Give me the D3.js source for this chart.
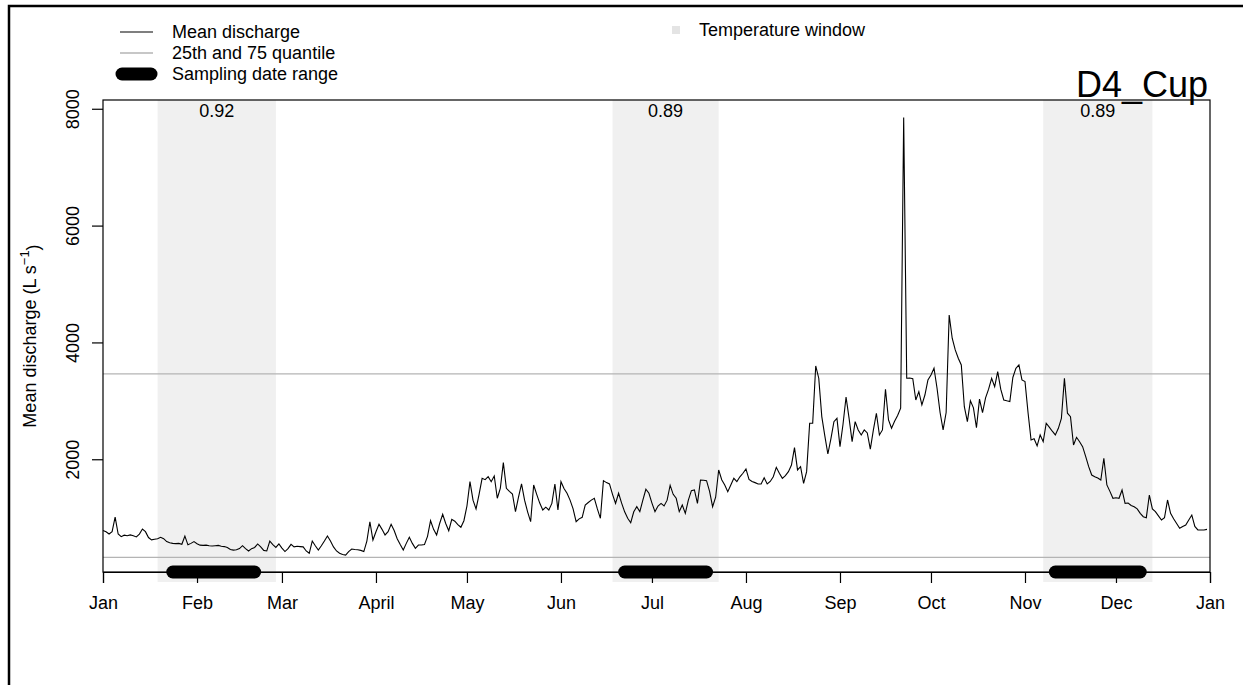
<!DOCTYPE html>
<html>
<head>
<meta charset="utf-8">
<script src="https://cdn.jsdelivr.net/npm/d3@7/dist/d3.min.js"></script>
<style>
  body { margin: 0; background: #fff; }
  svg { display: block; font-family: "Liberation Sans", Arial, sans-serif; }
</style>
</head>
<body>
<div id="chart"></div>
<script>
'use strict';

// daily mean discharge (L/s), one array per month
var janQ = [780, 760, 720, 760, 1010, 720, 675, 700, 690, 705, 690, 670, 720, 805, 760, 660, 620, 630, 640, 665, 640, 590, 570, 560, 555, 560, 545, 686, 535, 560, 590];
var febQ = [555, 530, 525, 530, 520, 515, 520, 525, 510, 505, 490, 455, 445, 450, 470, 520, 470, 430, 470, 490, 550, 500, 440, 430, 600, 540, 490, 550];
var marQ = [480, 420, 470, 544, 500, 510, 505, 500, 430, 390, 600, 520, 447, 520, 600, 686, 600, 500, 430, 390, 370, 360, 420, 464, 455, 450, 440, 420, 600, 930, 618];
var aprQ = [760, 886, 800, 704, 760, 886, 780, 640, 540, 447, 560, 664, 560, 476, 532, 532, 540, 680, 948, 800, 704, 900, 1058, 900, 777, 972, 940, 880, 836, 948];
var mayQ = [1200, 1616, 1300, 1149, 1400, 1674, 1650, 1702, 1616, 1714, 1332, 1500, 1942, 1503, 1450, 1406, 1103, 1350, 1577, 1300, 1100, 931, 1560, 1400, 1250, 1132, 1180, 1132, 1245, 1577, 1132];
var junQ = [1616, 1500, 1418, 1300, 1150, 931, 980, 1006, 1217, 1260, 1300, 1332, 1150, 989, 1634, 1600, 1577, 1400, 1245, 1418, 1250, 1100, 990, 914, 1100, 1188, 1103, 1300, 1486, 1418];
var julQ = [1250, 1103, 1200, 1245, 1200, 1300, 1555, 1400, 1332, 1103, 1217, 1074, 1300, 1462, 1474, 1245, 1645, 1640, 1634, 1450, 1188, 1350, 1817, 1650, 1560, 1446, 1560, 1674, 1617, 1700, 1760];
var augQ = [1834, 1656, 1620, 1600, 1577, 1577, 1684, 1577, 1620, 1700, 1862, 1760, 1674, 1720, 1788, 1900, 2199, 1817, 1873, 1588, 1788, 2616, 2616, 3597, 3387, 2730, 2400, 2090, 2350, 2644, 2700];
var sepQ = [2216, 2600, 3066, 2700, 2302, 2644, 2500, 2416, 2502, 2450, 2172, 2500, 2788, 2416, 2502, 3198, 2673, 2530, 2650, 2750, 2873, 7850, 3387, 3390, 3380, 3015, 3157, 2930, 3100, 3358];
var octQ = [3443, 3558, 3215, 2800, 2502, 2800, 4470, 4072, 3871, 3729, 3614, 2900, 2644, 3000, 2880, 2540, 3030, 2800, 3050, 3200, 3386, 3243, 3500, 3200, 3015, 3000, 2987, 3400, 3557, 3614, 3358];
var novQ = [3330, 2800, 2330, 2350, 2228, 2416, 2302, 2616, 2550, 2480, 2416, 2530, 2700, 3386, 2788, 2730, 2245, 2376, 2300, 2216, 2050, 1873, 1730, 1700, 1680, 1645, 2017, 1560, 1450, 1332];
var decQ = [1340, 1332, 1474, 1245, 1250, 1210, 1188, 1150, 1074, 1017, 1000, 1388, 1150, 1103, 1030, 960, 1000, 1303, 1074, 980, 900, 818, 850, 875, 960, 1045, 850, 790, 790, 790, 800];

var monthLabels = ['Jan', 'Feb', 'Mar', 'April', 'May', 'Jun', 'Jul', 'Aug', 'Sep', 'Oct', 'Nov', 'Dec', 'Jan'];
var yTicks = [2000, 4000, 6000, 8000];
var yLimits = [70, 8150];
var quantileLevels = [320, 3460];

var windowStarts = ['2019-01-19', '2019-06-18', '2019-11-07'];
var windowEnds = ['2019-02-27', '2019-07-23', '2019-12-13'];
var windowCorr = ['0.92', '0.89', '0.89'];
var samplingStarts = ['2019-01-24', '2019-06-22', '2019-11-11'];
var samplingEnds = ['2019-02-20', '2019-07-19', '2019-12-09'];

var siteName = 'D4_Cup';

function hydrograph()
{
    var scope = this;
    var exports = {};

    scope.width = 1243;
    scope.height = 685;
    scope.box = {left: 103, right: 1210, top: 100, bottom: 572};
    scope.tick = 11;

    var parseDate = d3.timeParse('%Y-%m-%d');
    var yearStart = new Date(2019, 0, 1);
    var yearEnd = new Date(2020, 0, 1);

    scope.xScale = d3.scaleTime().domain([yearStart, yearEnd]).range([scope.box.left, scope.box.right]);
    scope.yScale = d3.scaleLinear().domain(yLimits).range([scope.box.bottom, scope.box.top]);

    scope.buildSeries = function()
    {
        var all = [].concat(janQ, febQ, marQ, aprQ, mayQ, junQ, julQ, augQ, sepQ, octQ, novQ, decQ);
        return all.map(function(v, i) {
            return {date: d3.timeDay.offset(yearStart, i), q: v};
        });
    }

    scope.drawWindows = function(svg)
    {
        var wins = windowStarts.map(function(s, i) {
            return {start: parseDate(s), end: parseDate(windowEnds[i]), r: windowCorr[i]};
        });

        svg.append('g').selectAll('rect')
            .data(wins)
            .enter()
            .append('rect')
            .attr('x', function(d){ return scope.xScale(d.start); })
            .attr('y', scope.box.top)
            .attr('width', function(d){ return scope.xScale(d.end) - scope.xScale(d.start); })
            .attr('height', scope.box.bottom - scope.box.top + 10)
            .style('fill', '#f0f0f0');

        svg.append('g').selectAll('text')
            .data(wins)
            .enter()
            .append('text')
            .attr('x', function(d){ return (scope.xScale(d.start) + scope.xScale(d.end)) / 2; })
            .attr('y', scope.box.top + 17)
            .attr('text-anchor', 'middle')
            .style('font-size', '18px')
            .text(function(d){ return d.r; });
    }

    scope.drawLines = function(svg, series)
    {
        svg.append('g').selectAll('line')
            .data(quantileLevels)
            .enter()
            .append('line')
            .attr('x1', scope.box.left)
            .attr('x2', scope.box.right)
            .attr('y1', function(d){ return scope.yScale(d); })
            .attr('y2', function(d){ return scope.yScale(d); })
            .style('stroke', '#b4b4b4')
            .style('stroke-width', 1.3);

        var line = d3.line()
            .x(function(d){ return scope.xScale(d.date); })
            .y(function(d){ return scope.yScale(d.q); });

        svg.append('path')
            .datum(series)
            .attr('d', line)
            .style('fill', 'none')
            .style('stroke', '#000')
            .style('stroke-width', 1.1)
            .style('stroke-linejoin', 'miter');
    }

    scope.drawAxes = function(svg)
    {
        svg.append('rect')
            .attr('x', scope.box.left)
            .attr('y', scope.box.top)
            .attr('width', scope.box.right - scope.box.left)
            .attr('height', scope.box.bottom - scope.box.top)
            .style('fill', 'none')
            .style('stroke', '#000')
            .style('stroke-width', 1.2);

        var months = d3.timeMonth.range(yearStart, d3.timeDay.offset(yearEnd, 1));
        var xAxis = d3.axisBottom(scope.xScale)
            .tickValues(months)
            .tickSize(scope.tick)
            .tickPadding(26)
            .tickFormat(function(d, i){ return monthLabels[i]; });

        var gx = svg.append('g')
            .attr('transform', 'translate(0,' + scope.box.bottom + ')')
            .call(xAxis);
        gx.select('.domain').attr('stroke-width', 1.2);
        gx.selectAll('.tick line').attr('stroke-width', 1.2);
        gx.selectAll('text').style('font-size', '18px').attr('dy', '0');

        var yAxis = d3.axisLeft(scope.yScale)
            .tickValues(yTicks)
            .tickSize(scope.tick)
            .tickFormat(d3.format('d'));

        var gy = svg.append('g')
            .attr('transform', 'translate(' + scope.box.left + ',0)')
            .call(yAxis);
        gy.select('.domain').remove();
        gy.selectAll('.tick line').attr('stroke-width', 1.2);
        gy.selectAll('text')
            .attr('transform', 'rotate(-90)')
            .attr('x', 0)
            .attr('y', -24)
            .attr('dy', '0')
            .attr('text-anchor', 'middle')
            .style('font-size', '18px');

        var ylab = svg.append('text')
            .attr('transform', 'translate(36,' + ((scope.box.top + scope.box.bottom) / 2) + ') rotate(-90)')
            .attr('text-anchor', 'middle')
            .style('font-size', '18px');
        ylab.append('tspan').text('Mean discharge (L s');
        ylab.append('tspan').attr('dy', '-0.55em').style('font-size', '13px').text('\u22121');
        ylab.append('tspan').attr('dy', '0.55em').text(')');
    }

    scope.drawSampling = function(svg)
    {
        var ranges = samplingStarts.map(function(s, i) {
            return {start: parseDate(s), end: parseDate(samplingEnds[i])};
        });

        svg.append('g').selectAll('line')
            .data(ranges)
            .enter()
            .append('line')
            .attr('x1', function(d){ return scope.xScale(d.start); })
            .attr('x2', function(d){ return scope.xScale(d.end); })
            .attr('y1', scope.box.bottom)
            .attr('y2', scope.box.bottom)
            .style('stroke', '#000')
            .style('stroke-width', 13)
            .style('stroke-linecap', 'round');
    }

    scope.drawLegend = function(svg)
    {
        var lg = svg.append('g').style('font-size', '18px');
        var rows = [
            {label: 'Mean discharge', color: '#000', w: 1.1, cap: 'butt'},
            {label: '25th and 75 quantile', color: '#b4b4b4', w: 1.3, cap: 'butt'},
            {label: 'Sampling date range', color: '#000', w: 13, cap: 'round'}
        ];

        rows.forEach(function(r, i) {
            var y = 32 + i * 21;
            lg.append('line')
                .attr('x1', r.cap === 'round' ? 122 : 120)
                .attr('x2', r.cap === 'round' ? 151 : 153)
                .attr('y1', y).attr('y2', y)
                .style('stroke', r.color)
                .style('stroke-width', r.w)
                .style('stroke-linecap', r.cap);
            lg.append('text')
                .attr('x', 172)
                .attr('y', y + 6)
                .text(r.label);
        });

        lg.append('rect')
            .attr('x', 672).attr('y', 26)
            .attr('width', 8).attr('height', 8)
            .style('fill', '#e4e4e4');
        lg.append('text')
            .attr('x', 699)
            .attr('y', 36)
            .text('Temperature window');

        svg.append('text')
            .attr('x', 1208)
            .attr('y', 97)
            .attr('text-anchor', 'end')
            .style('font-size', '36px')
            .text(siteName);
    }

    exports.run = function(div)
    {
        var svg = d3.select(div).append('svg')
            .attr('width', scope.width)
            .attr('height', scope.height);

        svg.append('rect')
            .attr('width', scope.width).attr('height', scope.height)
            .style('fill', '#fff');

        // outer frame of the figure (only left and top edges fall inside the picture)
        svg.append('path')
            .attr('d', 'M9,' + scope.height + ' L9,6 L' + scope.width + ',6')
            .style('fill', 'none')
            .style('stroke', '#000')
            .style('stroke-width', 2.5);

        var series = scope.buildSeries();
        scope.drawWindows(svg);
        scope.drawLines(svg, series);
        scope.drawAxes(svg);
        scope.drawSampling(svg);
        scope.drawLegend(svg);
    }

    return exports;
}

var chart = new hydrograph();
chart.run('#chart');
</script>
</body>
</html>
